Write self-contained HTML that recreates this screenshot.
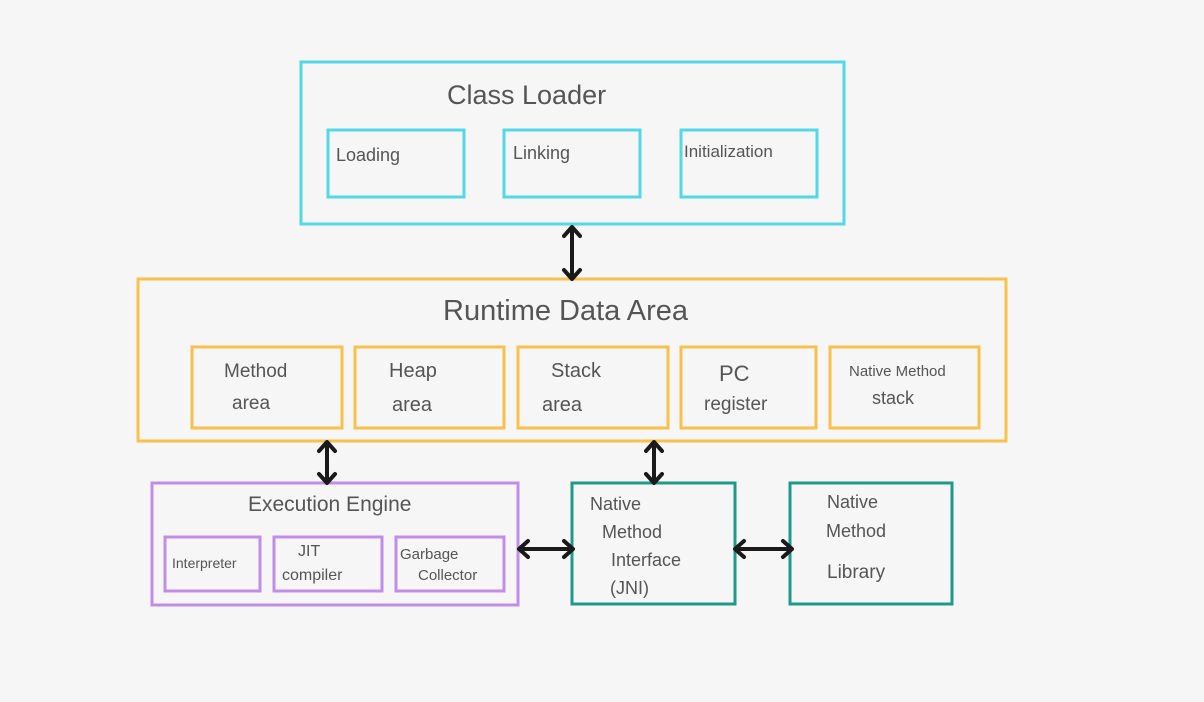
<!DOCTYPE html>
<html><head><style>
html,body{margin:0;padding:0;background:#f6f6f6;}
svg{display:block;}
text{font-family:"Liberation Sans",sans-serif;fill:#555;}
</style></head><body>
<svg width="1204" height="702" viewBox="0 0 1204 702" xmlns="http://www.w3.org/2000/svg">
<rect width="1204" height="702" fill="#f6f6f6"/>
<g fill="none" stroke-width="3">
<g stroke="#52d8e6">
<rect x="301" y="62" width="543" height="162"/>
<rect x="328" y="130" width="136" height="67"/>
<rect x="504" y="130" width="136" height="67"/>
<rect x="681" y="130" width="136" height="67"/>
</g>
<g stroke="#f8c04c">
<rect x="138" y="279" width="868" height="162"/>
<rect x="192" y="347" width="150" height="81"/>
<rect x="355" y="347" width="149" height="81"/>
<rect x="518" y="347" width="150" height="81"/>
<rect x="681" y="347" width="135" height="81"/>
<rect x="830" y="347" width="149" height="81"/>
</g>
<g stroke="#c08de8">
<rect x="152" y="483" width="366" height="122"/>
<rect x="165" y="537" width="95" height="54"/>
<rect x="274" y="537" width="108" height="54"/>
<rect x="396" y="537" width="108" height="54"/>
</g>
<g stroke="#1f9a8a">
<rect x="572" y="483" width="163" height="121"/>
<rect x="790" y="483" width="162" height="121"/>
</g>
</g>
<g stroke="#1a1a1a" stroke-width="4" fill="none" stroke-linecap="round" stroke-linejoin="round">
<path d="M572 228 V278 M564 236 L572 227 L580 236 M564 270 L572 279 L580 270"/>
<path d="M327 443 V482 M319 451 L327 442 L335 451 M319 474 L327 483 L335 474"/>
<path d="M654 443 V482 M646 451 L654 442 L662 451 M646 474 L654 483 L662 474"/>
<path d="M520 549 H572 M528 541 L519 549 L528 557 M564 541 L573 549 L564 557"/>
<path d="M736 549 H791 M744 541 L735 549 L744 557 M783 541 L792 549 L783 557"/>
</g>
<text x="447" y="104" font-size="27">Class Loader</text>
<text x="336" y="161" font-size="18">Loading</text>
<text x="513" y="159" font-size="18">Linking</text>
<text x="684" y="157" font-size="17">Initialization</text>
<text x="443" y="320" font-size="29">Runtime Data Area</text>
<text x="224" y="377" font-size="19">Method</text>
<text x="232" y="409" font-size="19">area</text>
<text x="389" y="377" font-size="20">Heap</text>
<text x="392" y="411" font-size="20">area</text>
<text x="551" y="377" font-size="20">Stack</text>
<text x="542" y="411" font-size="20">area</text>
<text x="719" y="381" font-size="22">PC</text>
<text x="704" y="410" font-size="19">register</text>
<text x="849" y="376" font-size="15">Native Method</text>
<text x="872" y="404" font-size="18">stack</text>
<text x="248" y="511" font-size="21">Execution Engine</text>
<text x="172" y="568" font-size="14">Interpreter</text>
<text x="298" y="556" font-size="16">JIT</text>
<text x="282" y="580" font-size="16">compiler</text>
<text x="400" y="559" font-size="15">Garbage</text>
<text x="418" y="580" font-size="15">Collector</text>
<text x="590" y="510" font-size="18">Native</text>
<text x="602" y="538" font-size="18">Method</text>
<text x="611" y="566" font-size="18">Interface</text>
<text x="610" y="594" font-size="18">(JNI)</text>
<text x="827" y="508" font-size="18">Native</text>
<text x="826" y="537" font-size="18">Method</text>
<text x="827" y="578" font-size="19">Library</text>
</svg>
</body></html>
